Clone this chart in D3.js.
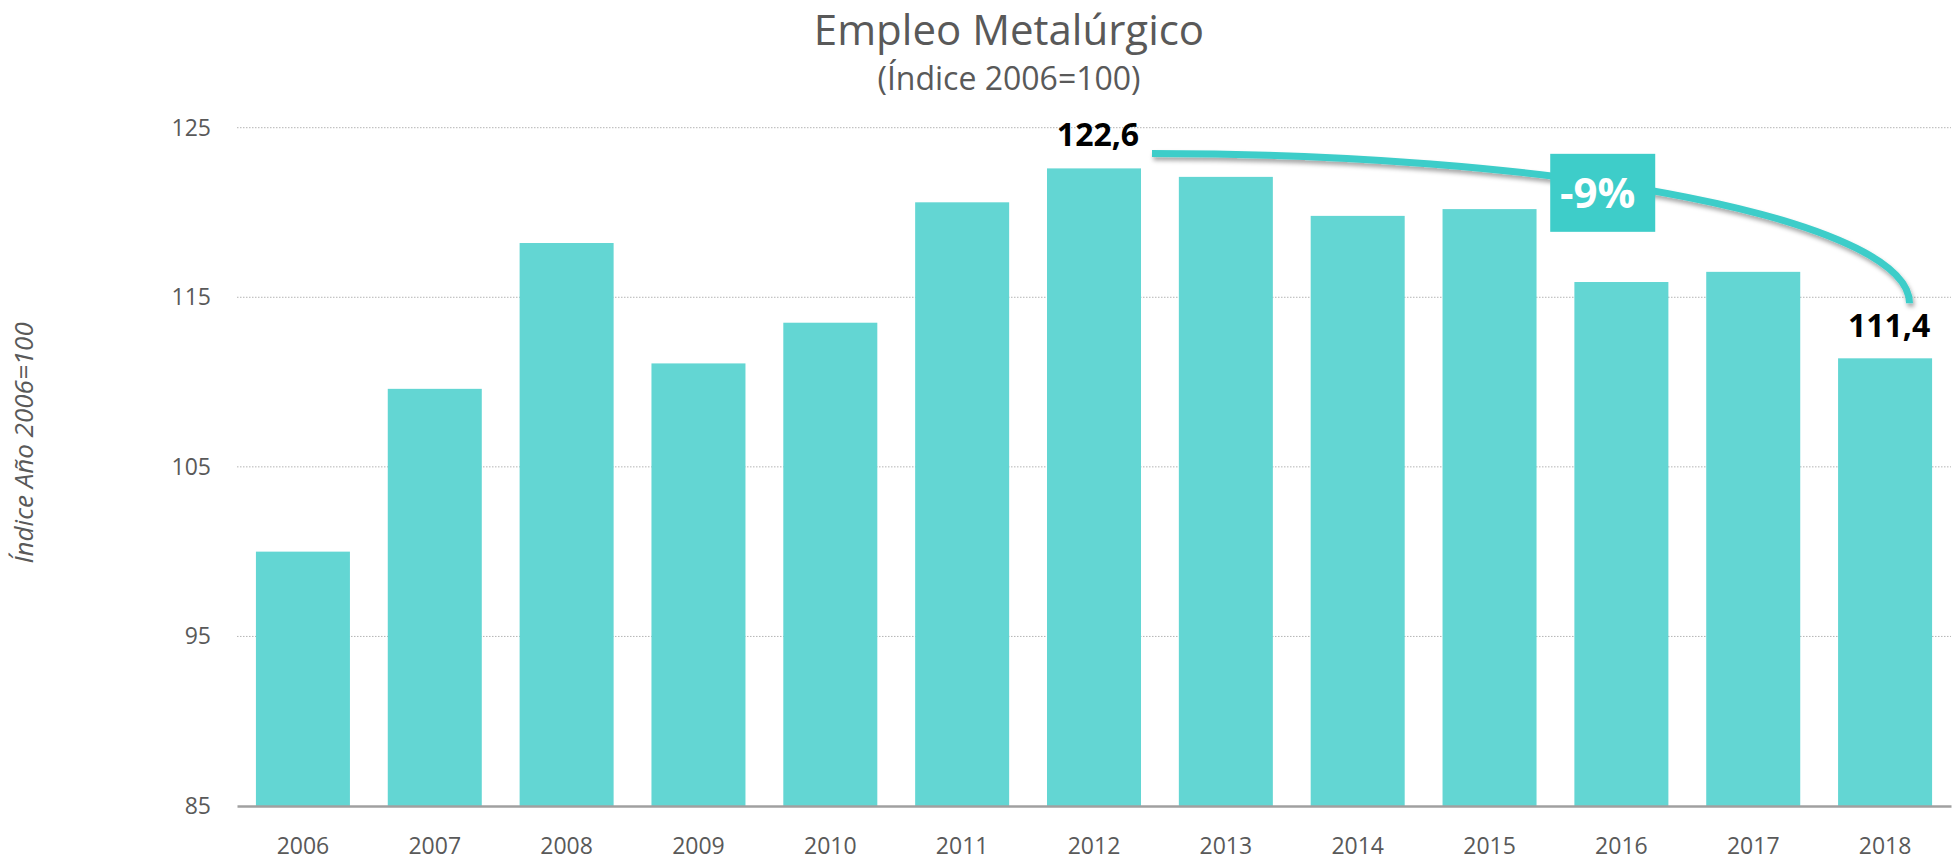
<!DOCTYPE html>
<html>
<head>
<meta charset="utf-8">
<script src="https://cdn.jsdelivr.net/npm/d3@7"></script>
<style>
  body { margin: 0; background: #fff; }
  svg { display: block; font-family: "Open Sans", sans-serif; }
</style>
</head>
<body>
<svg id="chart"></svg>
<script>
// Data
const years = ["2006", "2007", "2008", "2009", "2010", "2011", "2012", "2013", "2014", "2015", "2016", "2017", "2018"];
const values = [100.0, 109.6, 118.2, 111.1, 113.5, 120.6, 122.6, 122.1, 119.8, 120.2, 115.9, 116.5, 111.4];
const yTicks = [85, 95, 105, 115, 125];
const peakLabel = "122,6";
const lastLabel = "111,4";
const changeLabel = "-9%";

const W = 1959, H = 862;
const margin = { top: 127.7, right: 8, bottom: 56, left: 237 };

const svg = d3.select("#chart")
    .attr("width", W)
    .attr("height", H);

const data = years.map((y, i) => ({ year: y, value: values[i] }));

// Scales
const x = d3.scaleBand()
    .domain(years)
    .range([margin.left, W - margin.right])
    .paddingInner(0.287)
    .paddingOuter(0.1435);

const y = d3.scaleLinear()
    .domain([85, 125])
    .range([H - margin.bottom, margin.top]);

// Titles
svg.append("text")
    .attr("x", 1009)
    .attr("y", 45)
    .attr("text-anchor", "middle")
    .attr("fill", "#595959")
    .style("font-size", "42px")
    .text("Empleo Metalúrgico");

svg.append("text")
    .attr("x", 1009)
    .attr("y", 90)
    .attr("text-anchor", "middle")
    .attr("fill", "#595959")
    .style("font-size", "32px")
    .text("(Índice 2006=100)");

// Y axis title
svg.append("text")
    .attr("transform", "translate(33," + (y(105) - 24) + ") rotate(-90)")
    .attr("text-anchor", "middle")
    .attr("fill", "#595959")
    .style("font-size", "26px")
    .style("font-style", "italic")
    .text("Índice Año 2006=100");

// Gridlines
svg.append("g")
    .selectAll("line")
    .data(yTicks.filter(d => d !== 85))
    .enter().append("line")
    .attr("x1", margin.left)
    .attr("x2", W - margin.right)
    .attr("y1", d => y(d))
    .attr("y2", d => y(d))
    .attr("stroke", "#b4b4b4")
    .attr("stroke-width", 1)
    .attr("stroke-dasharray", "1.5,1.5");

// Y axis
const yAxis = svg.append("g")
    .attr("transform", "translate(" + (margin.left - 26) + ",0)")
    .call(d3.axisLeft(y).tickValues(yTicks).tickSize(0).tickPadding(0));
yAxis.select(".domain").remove();
yAxis.selectAll("text")
    .attr("fill", "#595959")
    .style("font-family", "'Open Sans', sans-serif")
    .style("font-size", "23px");

// Bars
svg.append("g")
    .selectAll("rect")
    .data(data)
    .enter().append("rect")
    .attr("x", d => x(d.year))
    .attr("y", d => y(d.value))
    .attr("width", x.bandwidth())
    .attr("height", d => y(85) - y(d.value))
    .attr("fill", "#63d6d3");

// X axis
const xAxis = svg.append("g")
    .attr("transform", "translate(0," + y(85) + ")")
    .call(d3.axisBottom(x).tickSize(0).tickPadding(32));
xAxis.select(".domain")
    .attr("stroke", "#a0a0a0")
    .attr("stroke-width", 2.5);
xAxis.selectAll("text")
    .attr("fill", "#595959")
    .style("font-family", "'Open Sans', sans-serif")
    .style("font-size", "23px");

// Annotation: curve from peak to last year
const defs = svg.append("defs");
const shadow = defs.append("filter")
    .attr("id", "shadow")
    .attr("x", "-10%").attr("y", "-50%")
    .attr("width", "120%").attr("height", "200%");
shadow.append("feDropShadow")
    .attr("dx", 1.5)
    .attr("dy", 3.5)
    .attr("stdDeviation", 2)
    .attr("flood-color", "#000")
    .attr("flood-opacity", 0.35);

const peak = data[6];
const last = data[data.length - 1];
const x0 = x(peak.year) + x.bandwidth() + 11;
const y0 = y(peak.value) - 15;
const x1 = x(last.year) + x.bandwidth() * 0.76;
const y1 = y(last.value) - 55;

svg.append("path")
    .attr("d", `M${x0},${y0} A${x1 - x0},${y1 - y0} 0 0 1 ${x1},${y1}`)
    .attr("fill", "none")
    .attr("stroke", "#3ecdc9")
    .attr("stroke-width", 7)
    .attr("filter", "url(#shadow)");

// -9% box
const t = 0.595;
const bx = x0 + t * (x1 - x0);
const by = y1 - (y1 - y0) * Math.sqrt(1 - t * t) + 10;
const boxW = 105, boxH = 78;
svg.append("rect")
    .attr("x", bx - boxW / 2)
    .attr("y", by - boxH / 2)
    .attr("width", boxW)
    .attr("height", boxH)
    .attr("fill", "#3ecdc9");
svg.append("text")
    .attr("x", bx - 5)
    .attr("y", by + 15)
    .attr("text-anchor", "middle")
    .attr("fill", "#fff")
    .style("font-size", "42px")
    .style("font-weight", "bold")
    .text(changeLabel);

// Value labels
svg.append("text")
    .attr("x", x(peak.year) + x.bandwidth() / 2 + 4)
    .attr("y", y(peak.value) - 22)
    .attr("text-anchor", "middle")
    .attr("fill", "#000")
    .style("font-size", "32px")
    .style("font-weight", "bold")
    .text(peakLabel);

svg.append("text")
    .attr("x", x(last.year) + x.bandwidth() / 2 + 4)
    .attr("y", y(last.value) - 21)
    .attr("text-anchor", "middle")
    .attr("fill", "#000")
    .style("font-size", "32px")
    .style("font-weight", "bold")
    .text(lastLabel);
</script>
</body>
</html>
